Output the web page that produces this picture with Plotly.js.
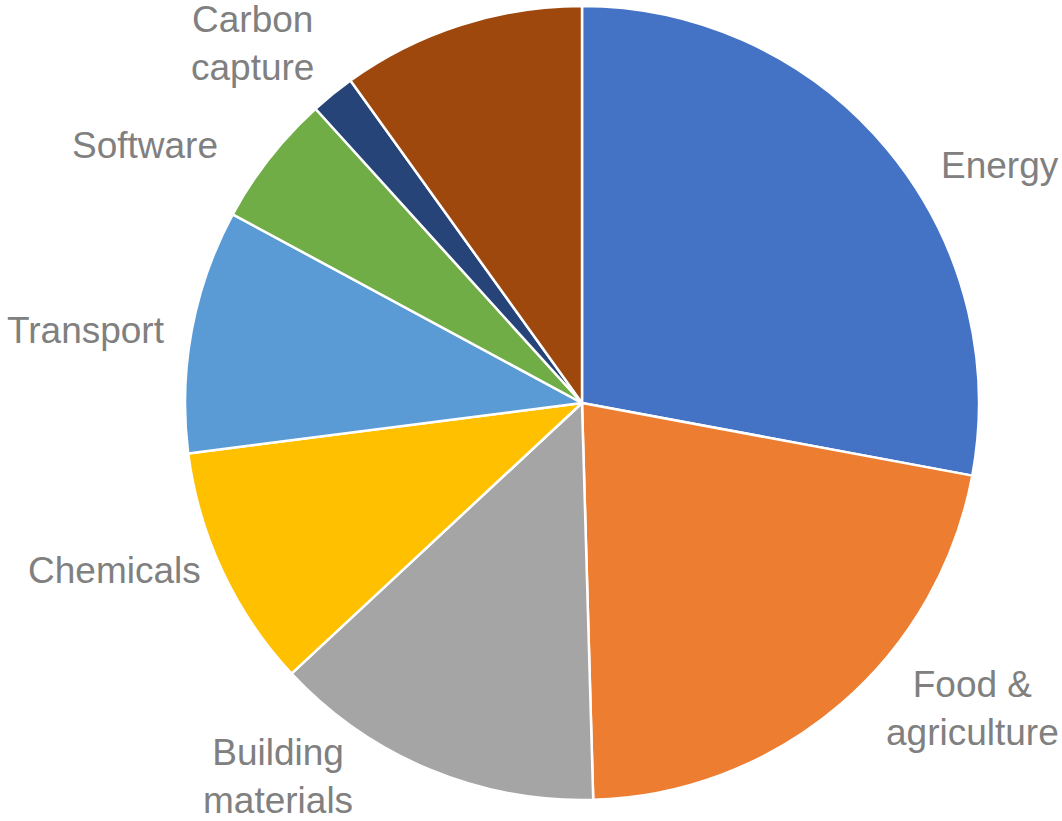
<!DOCTYPE html>
<html>
<head>
<meta charset="utf-8">
<script src="https://cdn.plot.ly/plotly-3.0.1.min.js"></script>
<style>html,body{margin:0;padding:0;background:#fff;}#chart{width:1062px;height:821px;}</style>
</head>
<body>
<div id="chart"></div>
<script>
// ---- data ----
const categories = ["Energy", "Food & agriculture", "Building materials", "Chemicals", "Transport", "Software", "Carbon capture", "Other"];
const displayLabels = ["Energy", "Food &<br>agriculture", "Building<br>materials", "Chemicals", "Transport", "Software", "Carbon<br>capture", ""];
const values = [31, 24, 15, 11, 11, 6, 2, 11];
const colors = ["#4472C4", "#ED7D31", "#A5A5A5", "#FFC000", "#5B9BD5", "#70AD47", "#264478", "#9E480E"];

// ---- layout ----
const W = 1062, H = 821;
const M = { l: 185, r: 83, t: 6, b: 21 };
const plotW = W - M.l - M.r, plotH = H - M.t - M.b;

// label placement (pixel centres, as in the reference's data-label layout)
const labelPixelPos = [
  [1000, 166], [972, 708], [278, 776], [114, 570], [86, 330], [145, 146], [252, 43], null
];

const annotations = [];
displayLabels.forEach((txt, i) => {
  if (!txt || !labelPixelPos[i]) return;
  const [px, py] = labelPixelPos[i];
  annotations.push({
    text: txt,
    xref: "paper", yref: "paper",
    x: (px - M.l) / plotW,
    y: (H - M.b - py) / plotH,
    xanchor: "center", yanchor: "middle",
    showarrow: false,
    align: "center",
    font: { family: "Liberation Sans, Arial, sans-serif", size: 37, color: "#808080" }
  });
});

const trace = {
  type: "pie",
  labels: categories,
  values: values,
  textinfo: "none",
  sort: false,
  direction: "clockwise",
  rotation: 0,
  marker: { colors: colors, line: { color: "#ffffff", width: 2.5 } },
  automargin: false,
  hoverinfo: "label+value"
};

const layout = {
  width: W,
  height: H,
  margin: M,
  showlegend: false,
  paper_bgcolor: "#ffffff",
  plot_bgcolor: "#ffffff",
  annotations: annotations
};

Plotly.newPlot("chart", [trace], layout, { displayModeBar: false, staticPlot: true });
</script>
</body>
</html>
